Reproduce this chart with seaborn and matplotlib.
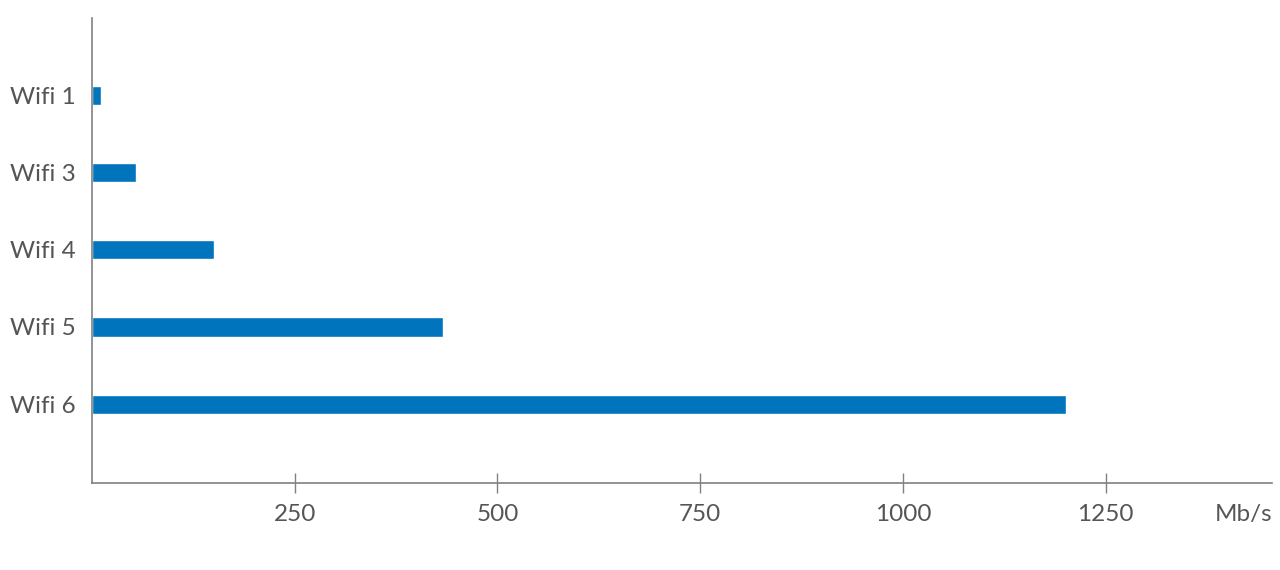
import matplotlib
matplotlib.use("Agg")
import matplotlib.pyplot as plt
import seaborn as sns
import pandas as pd

categories = ["Wifi 1", "Wifi 3", "Wifi 4", "Wifi 5", "Wifi 6"]
speeds = [11, 54, 150, 433, 1201]
xticks = [250, 500, 750, 1000, 1250]
unit_label = "Mb/s"

sns.set_theme(style="white")
plt.rcParams['font.family'] = ['Lato', 'DejaVu Sans']

df = pd.DataFrame({"cat": categories, "val": speeds})

fig = plt.figure(figsize=(12.8, 5.7), dpi=100)
ax = fig.add_axes([92/1280, (570-483)/570, (1272-92)/1280, (483-18)/570])

sns.barplot(data=df, x="val", y="cat", orient="h", color="#0074bd",
            saturation=1, width=0.25, ax=ax)

ax.set_xlim(0, 1455)
ax.set_ylim(5.02, -1.0)
ax.set_xticks(xticks)
ax.set_xticklabels([str(t) for t in xticks])
ax.set_xlabel("")
ax.set_ylabel("")

for s in ["top", "right"]:
    ax.spines[s].set_visible(False)
for s in ["left", "bottom"]:
    ax.spines[s].set_color("#808080")
    ax.spines[s].set_linewidth(1.2)

ax.tick_params(axis="x", bottom=True, direction="inout", length=14, width=1,
               color="#808080", labelsize=17.5, labelcolor="#555555", pad=8)
ax.tick_params(axis="y", left=False, length=0, labelsize=17.5,
               labelcolor="#555555", pad=12)

ax.text(1.0, 0, unit_label, transform=ax.transAxes, ha="right", va="top",
        fontsize=17.5, color="#555555")
fig.canvas.draw()
bb = ax.get_xticklabels()[0].get_window_extent()
inv = ax.transAxes.inverted()
ytop = inv.transform((0, bb.y1))[1]
ax.texts[-1].set_position((1.0, ytop))

fig.savefig("out.png", dpi=100)
